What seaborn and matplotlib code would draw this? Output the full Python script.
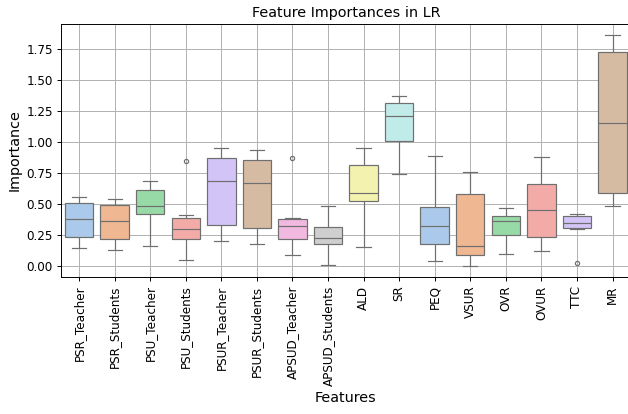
import matplotlib
matplotlib.use("Agg")
import matplotlib.pyplot as plt
import seaborn as sns
import pandas as pd

# Per-feature importance scores collected over the cross-validation runs
features = [
    "PSR_Teacher", "PSR_Students", "PSU_Teacher", "PSU_Students",
    "PSUR_Teacher", "PSUR_Students", "APSUD_Teacher", "APSUD_Students",
    "ALD", "SR", "PEQ", "VSUR", "OVR", "OVUR", "TTC", "MR",
]

psr_teacher = [0.152, 0.235, 0.385, 0.514, 0.562]
psr_students = [0.133, 0.219, 0.369, 0.492, 0.543]
psu_teacher = [0.163, 0.420, 0.484, 0.618, 0.690]
psu_students = [0.056, 0.150, 0.219, 0.270, 0.305, 0.350, 0.388, 0.414, 0.853]
psur_teacher = [0.209, 0.334, 0.687, 0.877, 0.958]
psur_students = [0.179, 0.313, 0.671, 0.859, 0.942]
apsud_teacher = [0.096, 0.170, 0.219, 0.280, 0.329, 0.360, 0.382, 0.393, 0.872]
apsud_students = [0.016, 0.185, 0.230, 0.316, 0.487]
ald = [0.155, 0.530, 0.594, 0.819, 0.958]
sr = [0.747, 1.011, 1.215, 1.321, 1.378]
peq = [0.048, 0.179, 0.329, 0.479, 0.891]
vsur = [0.008, 0.096, 0.169, 0.588, 0.760]
ovr = [0.099, 0.257, 0.369, 0.409, 0.471]
ovur = [0.128, 0.241, 0.458, 0.661, 0.883]
ttc = [0.029, 0.305, 0.310, 0.330, 0.350, 0.380, 0.404, 0.415, 0.425]
mr = [0.484, 0.596, 1.153, 1.728, 1.862]

scores = [
    psr_teacher, psr_students, psu_teacher, psu_students,
    psur_teacher, psur_students, apsud_teacher, apsud_students,
    ald, sr, peq, vsur, ovr, ovur, ttc, mr,
]

rows = [(f, v) for f, vals in zip(features, scores) for v in vals]
df = pd.DataFrame(rows, columns=["Features", "Importance"])

dpi = 86.3
fig = plt.figure(figsize=(628 / dpi, 414 / dpi), dpi=dpi)
ax = fig.add_axes([61.3 / 628, 137 / 414, 569 / 628, 253 / 414])

sns.boxplot(data=df, x="Features", y="Importance", hue="Features",
            order=features, hue_order=features, palette="pastel",
            legend=False, ax=ax, flierprops={"markersize": 3.5})

ax.set_title("Feature Importances in LR", fontsize=12)
ax.set_xlabel("Features", fontsize=12)
ax.set_ylabel("Importance", fontsize=12)
ax.tick_params(axis="x", rotation=90, labelsize=10)
ax.tick_params(axis="y", labelsize=10)
ax.grid(True)

fig.savefig("out.png", dpi=dpi)
